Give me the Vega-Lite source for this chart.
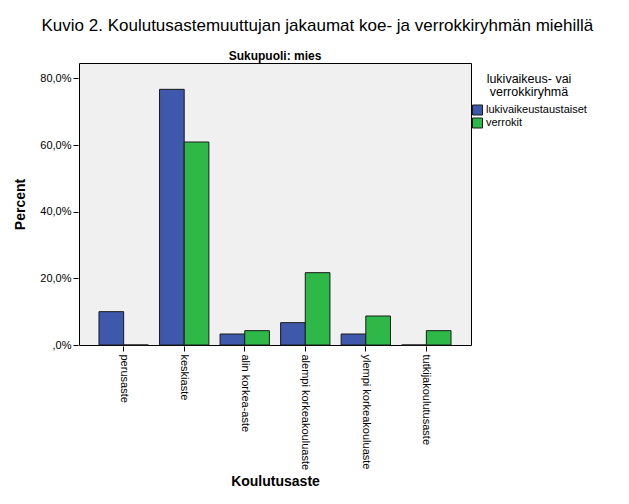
{
  "$schema": "https://vega.github.io/schema/vega-lite/v6.json",
  "background": "white",
  "padding": {"left": 13, "top": 17, "right": 5, "bottom": 5},
  "title": {
    "text": "Kuvio 2. Koulutusastemuuttujan jakaumat koe- ja verrokkiryhmän miehillä",
    "font": "Liberation Sans",
    "fontSize": 17,
    "fontWeight": "normal",
    "color": "black",
    "anchor": "middle",
    "frame": "bounds",
    "offset": 15,
    "dx": 12
  },
  "data": {
    "values": [
      {"Sukupuoli": "mies", "Koulutusaste": "perusaste", "ryhma": "lukivaikeustaustaiset", "Percent": 10.0},
      {"Sukupuoli": "mies", "Koulutusaste": "perusaste", "ryhma": "verrokit", "Percent": 0.0},
      {"Sukupuoli": "mies", "Koulutusaste": "keskiaste", "ryhma": "lukivaikeustaustaiset", "Percent": 76.7},
      {"Sukupuoli": "mies", "Koulutusaste": "keskiaste", "ryhma": "verrokit", "Percent": 60.9},
      {"Sukupuoli": "mies", "Koulutusaste": "alin korkea-aste", "ryhma": "lukivaikeustaustaiset", "Percent": 3.3},
      {"Sukupuoli": "mies", "Koulutusaste": "alin korkea-aste", "ryhma": "verrokit", "Percent": 4.3},
      {"Sukupuoli": "mies", "Koulutusaste": "alempi korkeakouluaste", "ryhma": "lukivaikeustaustaiset", "Percent": 6.7},
      {"Sukupuoli": "mies", "Koulutusaste": "alempi korkeakouluaste", "ryhma": "verrokit", "Percent": 21.7},
      {"Sukupuoli": "mies", "Koulutusaste": "ylempi korkeakouluaste", "ryhma": "lukivaikeustaustaiset", "Percent": 3.3},
      {"Sukupuoli": "mies", "Koulutusaste": "ylempi korkeakouluaste", "ryhma": "verrokit", "Percent": 8.7},
      {"Sukupuoli": "mies", "Koulutusaste": "tutkijakoulutusaste", "ryhma": "lukivaikeustaustaiset", "Percent": 0.0},
      {"Sukupuoli": "mies", "Koulutusaste": "tutkijakoulutusaste", "ryhma": "verrokit", "Percent": 4.3}
    ]
  },
  "facet": {
    "column": {
      "field": "Sukupuoli",
      "type": "nominal",
      "header": {
        "title": null,
        "labelExpr": "'Sukupuoli: ' + datum.value",
        "labelFont": "Liberation Sans",
        "labelFontSize": 12,
        "labelFontWeight": "bold",
        "labelColor": "black",
        "labelPadding": -1
      }
    }
  },
  "spec": {
    "width": 392,
    "height": 282,
    "mark": {"type": "bar", "stroke": "#1a1a1a", "strokeWidth": 1},
    "encoding": {
      "x": {
        "field": "Koulutusaste",
        "type": "nominal",
        "sort": ["perusaste", "keskiaste", "alin korkea-aste", "alempi korkeakouluaste", "ylempi korkeakouluaste", "tutkijakoulutusaste"],
        "scale": {"paddingInner": 0.185, "paddingOuter": 0.33},
        "axis": {
          "title": "Koulutusaste",
          "titleFont": "Liberation Sans",
          "titleFontSize": 14,
          "titleFontWeight": "bold",
          "titleColor": "black",
          "titlePadding": 5,
          "labelAngle": 90,
          "labelAlign": "left",
          "labelBaseline": "middle",
          "labelFont": "Liberation Sans",
          "labelFontSize": 11,
          "labelColor": "black",
          "labelPadding": 3,
          "tickColor": "black",
          "tickSize": 5,
          "domain": false
        }
      },
      "xOffset": {
        "field": "ryhma",
        "type": "nominal",
        "sort": ["lukivaikeustaustaiset", "verrokit"],
        "scale": {"paddingInner": 0, "paddingOuter": 0}
      },
      "y": {
        "field": "Percent",
        "type": "quantitative",
        "scale": {"domain": [0, 84.6], "nice": false},
        "axis": {
          "title": "Percent",
          "titleFont": "Liberation Sans",
          "titleFontSize": 14,
          "titleFontWeight": "bold",
          "titleColor": "black",
          "titlePadding": 12,
          "values": [0, 20, 40, 60, 80],
          "labelExpr": "datum.value == 0 ? ',0%' : replace(format(datum.value, '.1f'), '.', ',') + '%'",
          "labelFont": "Liberation Sans",
          "labelFontSize": 11,
          "labelColor": "black",
          "tickColor": "black",
          "tickSize": 5,
          "grid": false,
          "domain": false
        }
      },
      "color": {
        "field": "ryhma",
        "type": "nominal",
        "sort": ["lukivaikeustaustaiset", "verrokit"],
        "scale": {"domain": ["lukivaikeustaustaiset", "verrokit"], "range": ["#3e58ac", "#2eb848"]},
        "legend": {
          "title": ["lukivaikeus- vai", "verrokkiryhmä"],
          "titleFont": "Liberation Sans",
          "titleFontSize": 12.5,
          "titleFontWeight": "normal",
          "titleColor": "black",
          "titleAnchor": "middle",
          "titleAlign": "center",
          "titleLineHeight": 13,
          "titlePadding": 6,
          "labelFont": "Liberation Sans",
          "labelFontSize": 11,
          "labelColor": "black",
          "symbolType": "square",
          "symbolSize": 100,
          "symbolStrokeColor": "#1a1a1a",
          "symbolStrokeWidth": 1,
          "symbolOpacity": 1,
          "rowPadding": -3,
          "labelOffset": 3,
          "offset": -10,
          "padding": 10
        }
      }
    }
  },
  "config": {
    "view": {"fill": "#f0f0f0", "stroke": "black", "strokeWidth": 1},
    "font": "Liberation Sans"
  }
}
